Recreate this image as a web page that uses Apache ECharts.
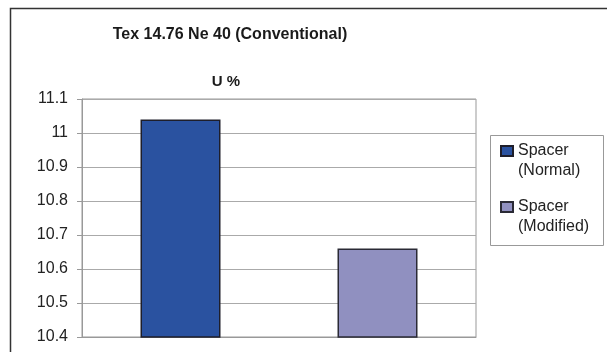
<!DOCTYPE html>
<html>
<head>
<meta charset="utf-8">
<script src="https://cdn.jsdelivr.net/npm/echarts@6/dist/echarts.min.js"></script>
<style>html,body{margin:0;padding:0;background:#fff;}#c{width:607px;height:352px;}</style>
</head>
<body>
<div id="c"></div>
<script>
var categories = ['Spacer (Normal)', 'Spacer (Modified)'];
var seriesNames = ['Spacer\n(Normal)', 'Spacer\n(Modified)'];
var normalValues = [11.04, '-'];
var modifiedValues = ['-', 10.66];
var yTicks = { min: 10.4, max: 11.1, interval: 0.1 };

var chart = echarts.init(document.getElementById('c'), null, { renderer: 'canvas' });
var font = 'Liberation Sans, Arial, sans-serif';
chart.setOption({
  animation: false,
  backgroundColor: '#fff',
  title: [
    { text: 'Tex 14.76 Ne 40 (Conventional)', left: 225, top: 22, textAlign: 'center',
      textStyle: { fontFamily: font, fontSize: 16, fontWeight: 'bold', color: '#1a1a1a' } },
    { text: 'U %', left: 221, top: 69, textAlign: 'center',
      textStyle: { fontFamily: font, fontSize: 15, fontWeight: 'bold', color: '#1a1a1a' } }
  ],
  graphic: [
    { type: 'polyline', shape: { points: [[10.5, 352], [10.5, 8.5], [607, 8.5]] },
      style: { stroke: '#333', lineWidth: 1.5, fill: null } },
    { type: 'rect', shape: { x: 490.5, y: 135.5, width: 113, height: 110 },
      style: { stroke: '#999', lineWidth: 1, fill: null } }
  ],
  legend: {
    orient: 'vertical',
    left: 500, top: 121,
    padding: 0,
    itemGap: -4,
    itemWidth: 12, itemHeight: 10,
    icon: 'rect',
    formatter: function (n) { return ' \n' + n; },
    textStyle: { fontFamily: font, fontSize: 16, color: '#222', lineHeight: 20 },
    data: seriesNames
  },
  grid: { left: 82, right: 131, top: 99, bottom: 15, show: true, borderColor: '#999', borderWidth: 1 },
  xAxis: {
    type: 'category', data: categories,
    axisLabel: { show: false }, axisTick: { show: false },
    axisLine: { lineStyle: { color: '#999' } }
  },
  yAxis: {
    type: 'value', min: yTicks.min, max: yTicks.max, interval: yTicks.interval,
    axisLine: { show: true, lineStyle: { color: '#999' } },
    axisTick: { show: true, length: 5, lineStyle: { color: '#999' } },
    axisLabel: { fontFamily: font, fontSize: 16, color: '#222', margin: 14,
      formatter: function (v) { return String(Math.round(v * 10) / 10); } },
    splitLine: { lineStyle: { color: '#aaa' } }
  },
  series: [
    { name: seriesNames[0], type: 'bar', stack: 's', data: normalValues, barWidth: 80,
      itemStyle: { color: '#2A52A0', borderColor: '#1e1e2a', borderWidth: 1.5 } },
    { name: seriesNames[1], type: 'bar', stack: 's', data: modifiedValues, barWidth: 80,
      itemStyle: { color: '#9090C0', borderColor: '#2a2a35', borderWidth: 1.5 } }
  ]
});
</script>
</body>
</html>
